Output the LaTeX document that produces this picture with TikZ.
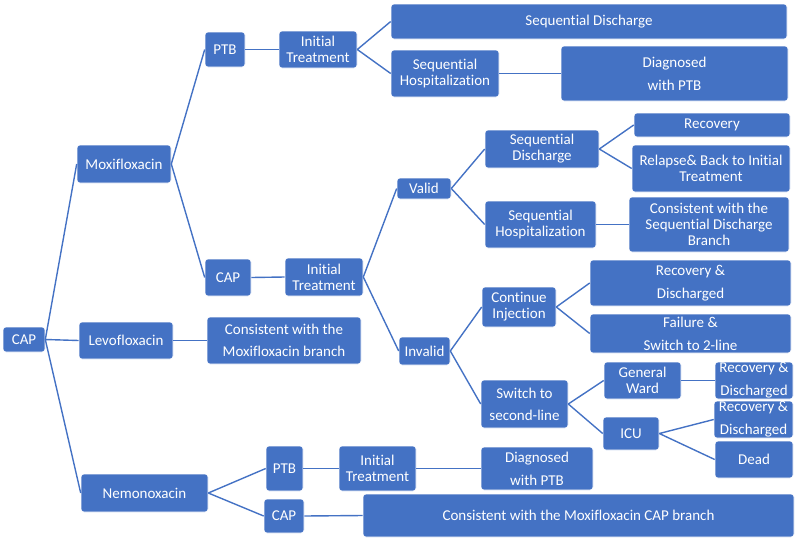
\documentclass[tikz,border=0pt]{standalone}
\usepackage{fontspec}
\setmainfont{Carlito}[Ligatures=CommonOff]
\usepackage{tikz}
\usepackage{xcolor}
\definecolor{treeblue}{HTML}{4472C4}
\tikzset{
    tree-box/.style = {fill=treeblue, draw=white, line width=0.6pt, rectangle, rounded corners=3pt, text=white, align=center, inner sep=0pt, font=\fontsize{15}{16}\selectfont},
    box-size/.style 2 args = {minimum width=#1pt, minimum height=#2pt},
    tree-line/.style = {draw=treeblue, line width=1.4pt},
}

\begin{document}
\begin{tikzpicture}[x=1pt, y=-1pt]
\useasboundingbox (0,0) rectangle (797,541);
% first level
\node[tree-box, box-size={42}{25}] (root) at (24,339.5) {CAP};
\node[tree-box, box-size={94}{38}] (moxi) at (124,164) {Moxifloxacin};
\node[tree-box, box-size={94}{37}] (levo) at (126,340.5) {Levofloxacin};
\node[tree-box, box-size={127}{38}] (nemo) at (144.5,493) {Nemonoxacin};
% moxifloxacin, PTB
\node[tree-box, box-size={40}{35}] (mptb) at (225,49.5) {PTB};
\node[tree-box, box-size={78}{37}] (minit) at (318,49.5) {Initial\\Treatment};
\node[tree-box, box-size={396}{35}] (sdis) at (589,21.5) {Sequential Discharge};
\node[tree-box, box-size={108}{47}] (shosp) at (445,73.5) {Sequential\\Hospitalization};
\node[tree-box, box-size={227}{55}] (sdiag) at (674.5,73.5) {Diagnosed\\[7pt]with PTB};
% moxifloxacin, CAP
\node[tree-box, box-size={46}{37}] (mcap) at (228,277.5) {CAP};
\node[tree-box, box-size={78}{38}] (cinit) at (324,277) {Initial\\Treatment};
\node[tree-box, box-size={54}{21}] (valid) at (424,188.5) {Valid};
\node[tree-box, box-size={114}{38}] (vsd) at (542,149) {Sequential\\Discharge};
\node[tree-box, box-size={111}{47}] (vsh) at (540.5,224.5) {Sequential\\Hospitalization};
\node[tree-box, box-size={156}{24}] (rec) at (712,125) {Recovery};
\node[tree-box, box-size={158}{47}] (rel) at (711,168.5) {Relapse\& Back to Initial\\Treatment};
\node[tree-box, box-size={160}{55}] (vcons) at (709,224.5) {Consistent with the\\Sequential Discharge\\Branch};
\node[tree-box, box-size={51}{28}] (invalid) at (424.5,351) {Invalid};
\node[tree-box, box-size={74}{40}] (cinj) at (519,307) {Continue\\Injection};
\node[tree-box, box-size={201}{46}] (cdis) at (690.5,283) {Recovery \&\\[7pt]Discharged};
\node[tree-box, box-size={201}{39}] (cfail) at (690.5,333.5) {Failure \&\\[7pt]Switch to 2-line};
\node[tree-box, box-size={87}{48}] (s2l) at (524.5,404) {Switch to\\[6pt]second-line};
\node[tree-box, box-size={77}{37}] (gw) at (642.5,380.5) {General\\Ward};
\node[tree-box, box-size={56}{33}] (icu) at (631,433.5) {ICU};
\node[tree-box, box-size={78}{37}] (gwrec) at (754,380.5) {Recovery \&\\[7pt]Discharged};
\node[tree-box, box-size={79}{37}] (icurec) at (753.5,419.5) {Recovery \&\\[7pt]Discharged};
\node[tree-box, box-size={78}{37}] (dead) at (754,459.5) {Dead};
% levofloxacin
\node[tree-box, box-size={154}{47}] (lcons) at (284,340.5) {Consistent with the\\[6pt]Moxifloxacin branch};
% nemonoxacin
\node[tree-box, box-size={37}{45}] (nptb) at (284.5,468.5) {PTB};
\node[tree-box, box-size={77}{45}] (ninit) at (377.5,468.5) {Initial\\Treatment};
\node[tree-box, box-size={112}{43}] (ndiag) at (537,468.5) {Diagnosed\\[7pt]with PTB};
\node[tree-box, box-size={40}{34}] (ncap) at (284,516) {CAP};
\node[tree-box, box-size={431}{43}] (ncons) at (578.5,515.5) {Consistent with the Moxifloxacin CAP branch};

% connectors
\draw[tree-line] (root.east) -- (moxi.west) (root.east) -- (levo.west) (root.east) -- (nemo.west);
\draw[tree-line] (moxi.east) -- (mptb.west) (moxi.east) -- (mcap.west);
\draw[tree-line] (mptb.east) -- (minit.west);
\draw[tree-line] (minit.east) -- (sdis.west) (minit.east) -- (shosp.west);
\draw[tree-line] (shosp.east) -- (sdiag.west);
\draw[tree-line] (mcap.east) -- (cinit.west);
\draw[tree-line] (cinit.east) -- (valid.west) (cinit.east) -- (invalid.west);
\draw[tree-line] (valid.east) -- (vsd.west) (valid.east) -- (vsh.west);
\draw[tree-line] (vsd.east) -- (rec.west) (vsd.east) -- (rel.west);
\draw[tree-line] (vsh.east) -- (vcons.west);
\draw[tree-line] (invalid.east) -- (cinj.west) (invalid.east) -- (s2l.west);
\draw[tree-line] (cinj.east) -- (cdis.west) (cinj.east) -- (cfail.west);
\draw[tree-line] (s2l.east) -- (gw.west) (s2l.east) -- (icu.west);
\draw[tree-line] (gw.east) -- (gwrec.west);
\draw[tree-line] (icu.east) -- (icurec.west) (icu.east) -- (dead.west);
\draw[tree-line] (levo.east) -- (lcons.west);
\draw[tree-line] (nemo.east) -- (nptb.west) (nemo.east) -- (ncap.west);
\draw[tree-line] (nptb.east) -- (ninit.west);
\draw[tree-line] (ninit.east) -- (ndiag.west);
\draw[tree-line] (ncap.east) -- (ncons.west);
\end{tikzpicture}
\end{document}
